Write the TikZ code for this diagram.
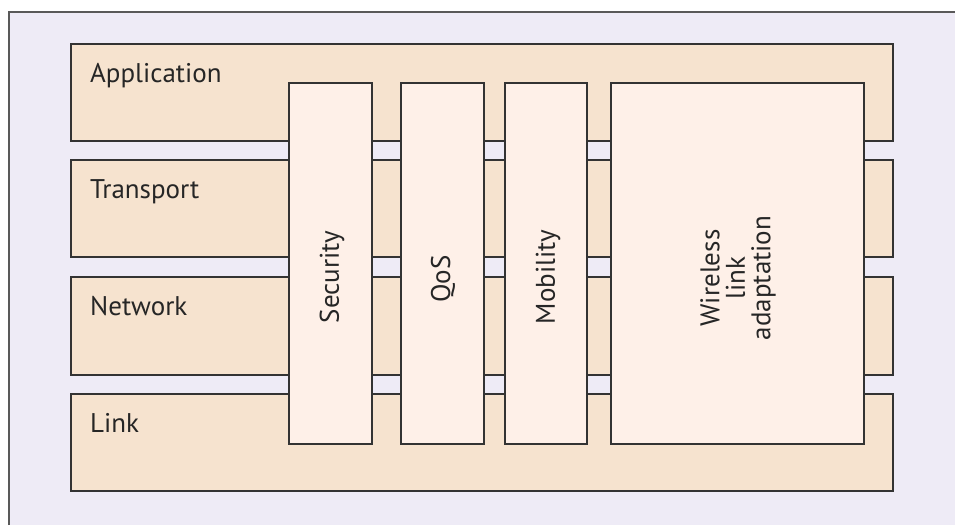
\documentclass[tikz,border=0pt]{standalone}
\usepackage{fontspec}
\setmainfont{PT Sans}
\begin{document}
\begin{tikzpicture}[x=1pt,y=-1pt,
  layer/.style={draw=black!80, line width=1.6pt, fill=layerfill},
  func/.style={draw=black!80, line width=1.6pt, fill=funcfill},
  lbl/.style={font=\fontsize{27}{26}\selectfont, text=black!85, anchor=base west, inner sep=0pt},
  vlbl/.style={font=\fontsize{27}{25.5}\selectfont, text=black!85, rotate=90, align=center, inner sep=0pt}]
\definecolor{layerfill}{HTML}{F6E3CF}
\definecolor{funcfill}{HTML}{FEF0E8}
\definecolor{bgfill}{HTML}{EEEBF6}
\useasboundingbox (0,0) rectangle (955,525);
\fill[white] (0,0) rectangle (955,525);
\fill[bgfill] (9,12) rectangle (955,525);
\draw[black!65, line width=1.6pt] (9,525) -- (9,12) -- (955,12);
% layers
\draw[layer] (71,44) rectangle (893,141);
\draw[layer] (71,160) rectangle (893,257);
\draw[layer] (71,277) rectangle (893,375);
\draw[layer] (71,394) rectangle (893,491);
\node[lbl] (app) at (90,82) {Application};
\node[lbl] (tra) at (90,198) {Transport};
\node[lbl] (net) at (90,315) {Network};
\node[lbl] (lnk) at (90,432) {Link};
% functions
\draw[func] (289,83) rectangle (372,444);
\draw[func] (401,83) rectangle (484,444);
\draw[func] (505,83) rectangle (587,444);
\draw[func] (611,83) rectangle (864,444);
\node[vlbl] (sec) at (332,277) {Security};
\node[vlbl] (qos) at (443,279) {QoS};
\node[vlbl] (mob) at (548,277) {Mobility};
\node[vlbl] (wla) at (738,278) {Wireless\\link\\adaptation};
\end{tikzpicture}
\end{document}
